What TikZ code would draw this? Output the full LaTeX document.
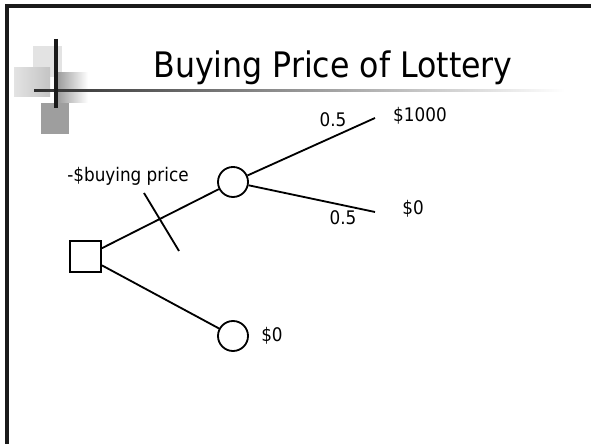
\documentclass[tikz,border=0pt]{standalone}
\usepackage{fontspec}
\setmainfont{DejaVu Sans Condensed}
\usetikzlibrary{positioning}
\definecolor{frameBlack}{HTML}{1A1A1A}
\definecolor{decoLight}{HTML}{E3E3E3}
\definecolor{decoMid}{HTML}{C4C4C4}
\definecolor{decoDark}{HTML}{9E9E9E}
\definecolor{barDark}{HTML}{2E2E2E}

\begin{document}
\begin{tikzpicture}[x=0.025cm, y=-0.025cm,
    decision/.style={rectangle, draw, line width=1.3pt, fill=white, minimum size=0.775cm, inner sep=0pt},
    chance/.style={circle, draw, line width=1.3pt, fill=white, minimum size=0.75cm, inner sep=0pt},
    branch/.style={line width=1.3pt},
    lbl/.style={font=\fontsize{13.3pt}{15pt}\selectfont, inner sep=0pt}]
    \useasboundingbox (0,0) rectangle (591,444);
    \fill[white] (0,0) rectangle (591,444);
    \draw[frameBlack, line width=2.2pt] (591,6) -- (7,6) -- (7,444);
    \fill[decoLight] (33,46) rectangle (62,77);
    \shade[left color=decoLight, right color=decoMid] (14,68) rectangle (50,97);
    \shade[left color=decoDark, right color=white] (58,73) rectangle (88,103);
    \fill[decoDark] (41,103) rectangle (69,134);
    \shade[left color=barDark, right color=white] (34,89.8) rectangle (565,91.6);
    \draw[frameBlack, line width=2.2pt] (56,39) -- (56,108);
    \node[font=\fontsize{25pt}{30pt}\selectfont, anchor=base, inner sep=0pt] (title) at (333,78) {Buying Price of Lottery};
    \node[decision] (dec) at (85.5,256.5) {};
    \node[chance] (ch1) at (233,182) {};
    \node[chance] (ch2) at (233,336) {};
    \coordinate (win) at (375,118);
    \coordinate (lose) at (375,212);
    \coordinate (tickA) at (144,193);
    \coordinate (tickB) at (179,251);
    \draw[branch] (dec) -- (ch1);
    \draw[branch] (dec) -- (ch2);
    \draw[branch] (ch1) -- (win);
    \draw[branch] (ch1) -- (lose);
    \draw[branch] (tickA) -- (tickB);
    \node[lbl] (price) at (128,176) {-\$buying price};
    \node[lbl] (pwin) at (333,120) {0.5};
    \node[lbl] (plose) at (343,218) {0.5};
    \node[lbl] (vwin) at (420,116) {\$1000};
    \node[lbl] (vlose) at (413,209) {\$0};
    \node[lbl] (vnone) at (272,336) {\$0};
\end{tikzpicture}
\end{document}
